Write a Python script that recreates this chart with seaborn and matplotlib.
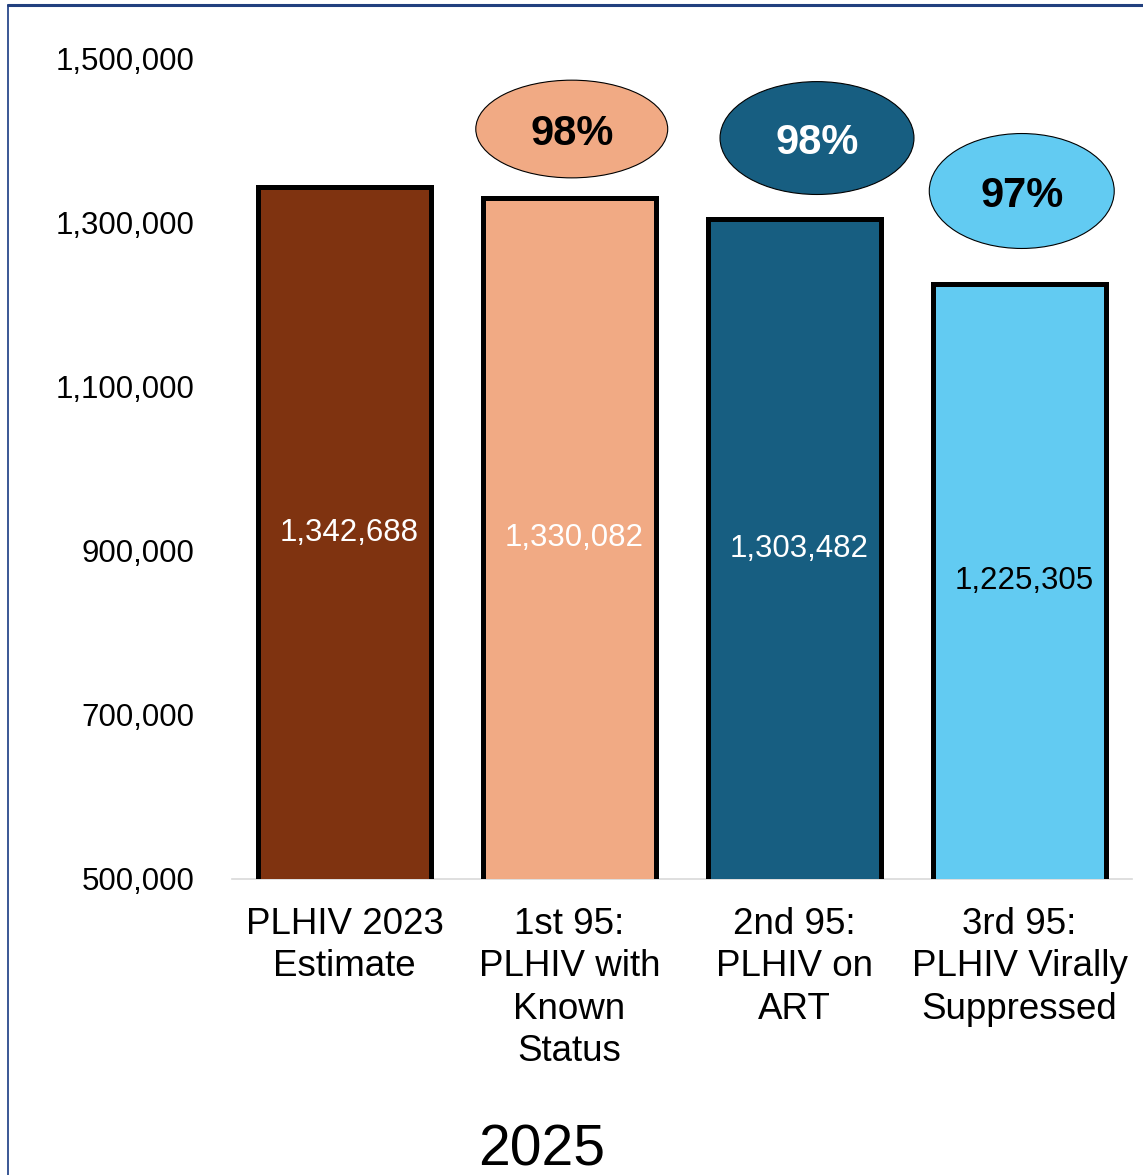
import matplotlib
matplotlib.use("Agg")
import matplotlib.pyplot as plt
import seaborn as sns
import pandas as pd
from matplotlib.patches import Ellipse
from matplotlib.lines import Line2D
from matplotlib.ticker import FuncFormatter

# ---- data ----
categories = ["PLHIV 2023\nEstimate", "1st 95:\nPLHIV with\nKnown\nStatus",
              "2nd 95:\nPLHIV on\nART", "3rd 95:\nPLHIV Virally\nSuppressed"]
values = [1342688, 1330082, 1303482, 1225305]
bar_colors = ["#7F3310", "#F1AA84", "#175E81", "#62CBF2"]
label_colors = ["white", "white", "white", "black"]
pct_labels = ["98%", "98%", "97%"]
pct_fill = ["#F1AA84", "#175E81", "#62CBF2"]
pct_text_colors = ["black", "white", "black"]
year_label = "2025"
y_ticks = [500000, 700000, 900000, 1100000, 1300000, 1500000]

# ---- layout (positions of bubble annotations) ----
bubble_x = [1.01, 2.10, 3.01]
bubble_y = [1413500, 1402500, 1338000]
bubble_w = [0.853, 0.862, 0.822]
bubble_h = [119000, 137500, 140000]

sns.set_theme(style="white")
plt.rcParams["font.family"] = ["Liberation Sans", "DejaVu Sans"]

fig = plt.figure(figsize=(11.43, 11.75), dpi=100)
ax = fig.add_axes([232/1143, 1 - 879/1175, 900/1143, 821/1175])

df = pd.DataFrame({"cat": categories, "val": values})
sns.barplot(data=df, x="cat", y="val", hue="cat", palette=bar_colors,
            legend=False, width=0.765, edgecolor="black", linewidth=3.6,
            saturation=1, ax=ax)

ax.set_ylim(500000, 1500000)
ax.set_xlim(-0.5, 3.5)
ax.set_yticks(y_ticks)
ax.yaxis.set_major_formatter(FuncFormatter(lambda v, p: f"{int(v):,}"))
ax.tick_params(axis="y", length=0, pad=27, labelsize=22.5, labelcolor="black")
ax.tick_params(axis="x", length=0, pad=20, labelcolor="black")
ax.set_xticks(range(len(categories)))
ax.set_xticklabels(categories, fontsize=26.5, linespacing=1.28, va="top")
ax.set_xlabel("")
ax.set_ylabel("")
for s in ["top", "right", "left"]:
    ax.spines[s].set_visible(False)
ax.spines["bottom"].set_color("#D9D9D9")
ax.spines["bottom"].set_linewidth(1.2)
ax.spines["bottom"].set_zorder(0)

# value labels inside bars
for i, (v, c) in enumerate(zip(values, label_colors)):
    ax.text(i + 0.02, (500000 + v) / 2, f"{v:,}", ha="center", va="center",
            color=c, fontsize=22.5)

# percentage bubbles
for x, y, w, h, t, fc, tc in zip(bubble_x, bubble_y, bubble_w, bubble_h,
                                 pct_labels, pct_fill, pct_text_colors):
    e = Ellipse((x, y), w, h, facecolor=fc,
                edgecolor="black", linewidth=0.8, clip_on=False, zorder=5)
    ax.add_patch(e)
    ax.text(x, y, t, ha="center", va="center_baseline", fontsize=30,
            fontweight="bold", color=tc, zorder=6, clip_on=False)

fig.text(542/1143, 1 - 1150/1175, year_label, ha="center", va="center",
         fontsize=41, color="black")

# outer frame (partially visible)
fig.add_artist(Line2D([7.5/1143, 7.5/1143], [0, 1 - 5/1175],
                      transform=fig.transFigure, color="#2B4A8C", linewidth=1.3))
fig.add_artist(Line2D([7.5/1143, 1], [1 - 5/1175, 1 - 5/1175],
                      transform=fig.transFigure, color="#22407F", linewidth=2.2))

fig.savefig("out.png", dpi=100)
